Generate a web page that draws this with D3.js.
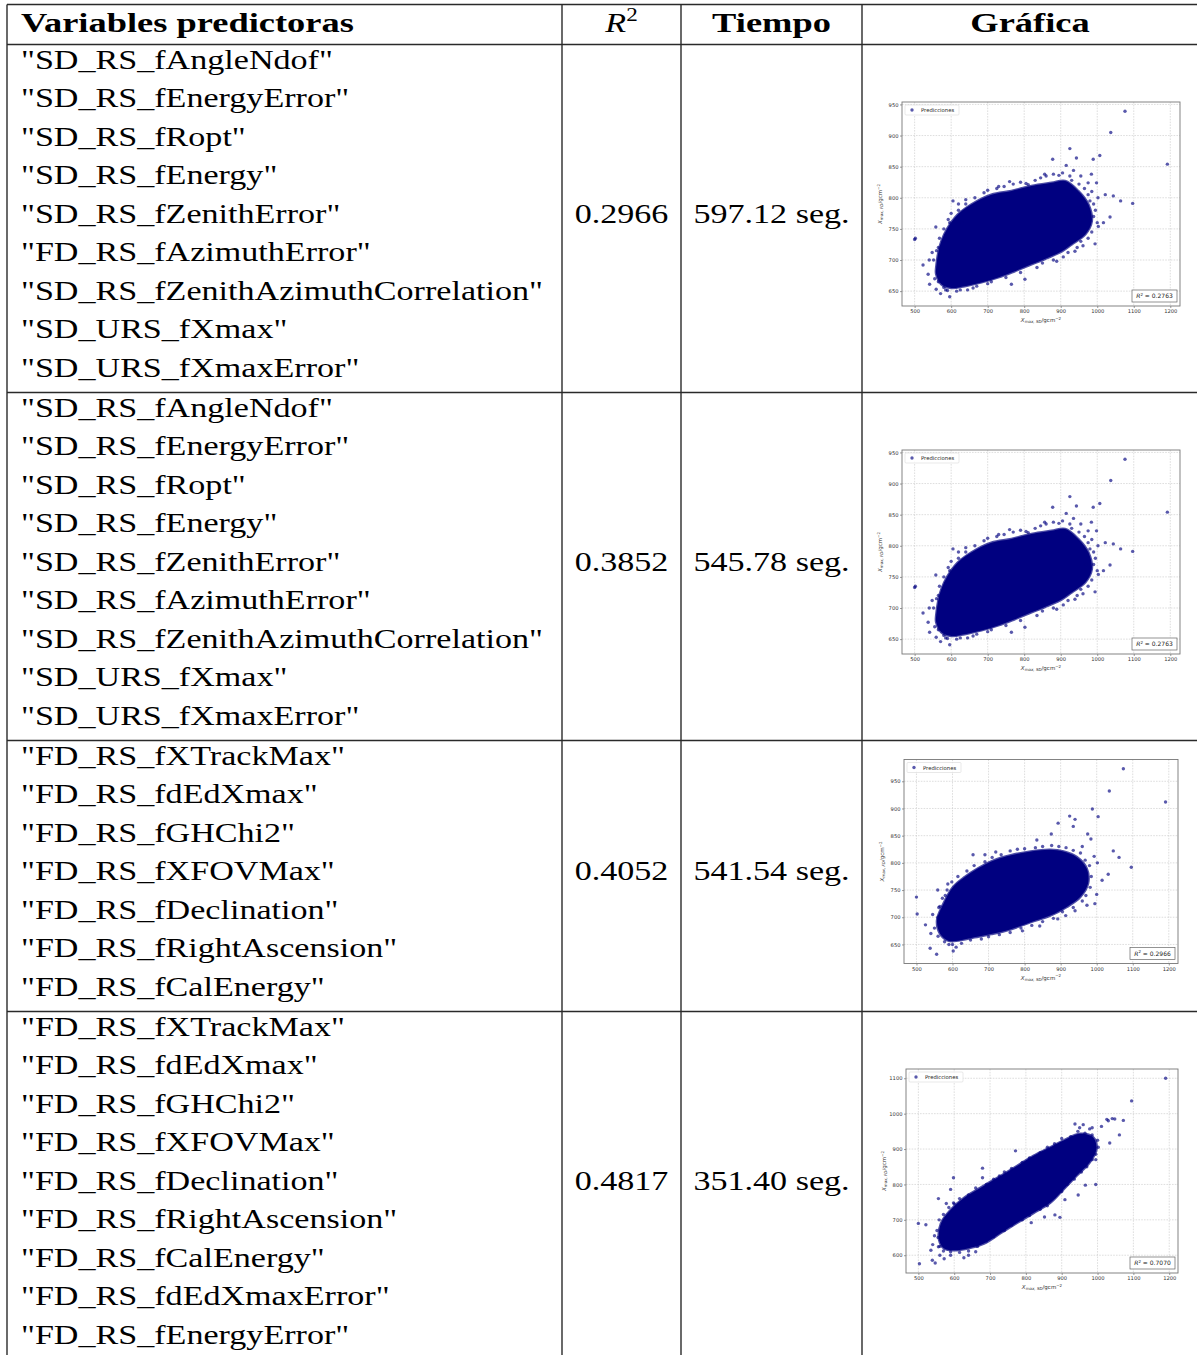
<!DOCTYPE html>
<html>
<head>
<meta charset="utf-8">
<script src="https://cdn.jsdelivr.net/npm/d3@7"></script>
<style>
  body { margin: 0; background: #fff; }
  svg { display: block; }
</style>
</head>
<body>
<svg id="chart" width="1197" height="1355"></svg>
<script>
// table content
const headers = ['Variables predictoras', 'R2', 'Tiempo', 'Gráfica'];
const varsRow1 = ['SD_RS_fAngleNdof', 'SD_RS_fEnergyError', 'SD_RS_fRopt', 'SD_RS_fEnergy', 'SD_RS_fZenithError',
  'FD_RS_fAzimuthError', 'SD_RS_fZenithAzimuthCorrelation', 'SD_URS_fXmax', 'SD_URS_fXmaxError'];
const varsRow2 = ['SD_RS_fAngleNdof', 'SD_RS_fEnergyError', 'SD_RS_fRopt', 'SD_RS_fEnergy', 'SD_RS_fZenithError',
  'SD_RS_fAzimuthError', 'SD_RS_fZenithAzimuthCorrelation', 'SD_URS_fXmax', 'SD_URS_fXmaxError'];
const varsRow3 = ['FD_RS_fXTrackMax', 'FD_RS_fdEdXmax', 'FD_RS_fGHChi2', 'FD_RS_fXFOVMax', 'FD_RS_fDeclination',
  'FD_RS_fRightAscension', 'FD_RS_fCalEnergy'];
const varsRow4 = ['FD_RS_fXTrackMax', 'FD_RS_fdEdXmax', 'FD_RS_fGHChi2', 'FD_RS_fXFOVMax', 'FD_RS_fDeclination',
  'FD_RS_fRightAscension', 'FD_RS_fCalEnergy', 'FD_RS_fdEdXmaxError', 'FD_RS_fEnergyError'];
const r2Values = ['0.2966', '0.3852', '0.4052', '0.4817'];
const timeValues = ['597.12 seg.', '545.78 seg.', '541.54 seg.', '351.40 seg.'];
const plotR2 = ['0.2763', '0.2763', '0.2966', '0.7070'];

// scatter thumbnails: x = Xmax SD, y = Xmax FD (g/cm2)
const xTicks = [500, 600, 700, 800, 900, 1000, 1100, 1200];
const yTicks50 = [650, 700, 750, 800, 850, 900, 950];
const yTicks100 = [600, 700, 800, 900, 1000, 1100];

// outline of the saturated core of the cloud
const coreA = [[559,688],[573,730],[610,768],[655,789],[710,805],[765,811],[820,819],[875,824],[912,827],[948,811],
  [976,789],[985,762],[967,741],[930,725],[903,714],[866,704],[820,693],[774,682],[729,672],[683,664],[637,658],
  [601,655],[573,661],[559,677]];
const pointsA = [[500,733],[502,735],[558,753],[523,692],[537,677],[541,661],[559,653],[571,646],[596,641],[580,656],
  [605,795],[596,760],[925,879],[943,864],[878,862],[989,862],[1007,868],[915,852],[1076,939],[1037,905],[1192,854],
  [1097,791],[1064,795],[1035,769],[1017,760],[1003,754],[994,726],[961,723],[939,714],[1044,803],[1022,805],[935,844],
  [984,838],[998,824],[975,824],[811,821],[856,838],[802,669],[765,661],[710,665],[907,705],[889,698],[990,790],
  [955,835],[925,835],[1002,800],[540,700],[548,712],[565,720],[585,740],[590,651],[625,652],[660,655],[760,826],
  [730,818],[640,790],[620,780]];
const edgeA = [[620,790],[640,797],[665,800],[690,808],[700,812],[725,815],[745,818],[770,822],[790,825],[805,823],
  [830,828],[845,832],[860,835],[880,838],[895,836],[905,840],[930,828],[950,822],[965,815],[975,805],[985,810],
  [980,795],[995,780],[990,770],[1000,760],[985,745],[975,735],[955,730],[945,720],[920,712],[880,700],[850,695],
  [835,688],[790,680],[750,672],[700,662],[670,658],[645,652],[615,650],[585,652],[565,665],[555,670],[552,700],
  [560,715],[568,735],[580,750],[592,765],[600,775],[630,760],[960,760],[970,770]];

const coreC = [[557,694],[575,725],[602,756],[634,774],[671,790],[716,805],[762,814],[817,821],[871,824],[908,821],
  [944,811],[972,790],[976,762],[954,737],[917,719],[871,703],[817,691],[762,678],[707,669],[661,663],[616,657],
  [588,657],[566,669]];
const pointsC = [[500,737],[502,706],[525,686],[538,643],[556,632],[579,675],[602,638],[587,761],[559,750],[657,815],
  [1074,973],[1035,932],[1191,912],[988,899],[1004,885],[925,886],[940,880],[893,873],[935,867],[975,853],[984,844],
  [874,853],[834,842],[1096,792],[1062,810],[1046,822],[1032,779],[1015,768],[1000,742],[995,725],[973,722],[940,712],
  [914,703],[892,697],[842,684],[794,675],[993,812],[1002,800],[960,830],[545,705],[562,718],[610,645],[590,650],
  [540,670],[690,815],[720,820],[580,740]];
const edgeC = [[560,700],[565,720],[572,735],[585,750],[598,765],[615,775],[640,785],[660,795],[690,802],[710,810],
  [735,815],[760,822],[780,825],[800,826],[830,828],[850,830],[875,832],[895,830],[915,828],[935,823],[955,818],
  [968,805],[980,795],[985,775],[982,755],[970,740],[960,730],[935,718],[905,710],[880,698],[850,692],[820,685],
  [790,680],[760,672],[730,668],[700,664],[680,660],[650,658],[625,652],[600,650],[578,655],[560,665],[550,680]];

const coreD = [[558,643],[563,690],[591,729],[627,762],[674,791],[729,824],[775,852],[821,881],[868,905],[905,924],
  [951,943],[988,933],[997,900],[978,862],[941,824],[905,786],[868,748],[821,719],[775,691],[729,662],[683,633],
  [637,619],[600,614],[572,619]];
const pointsD = [[500,690],[503,576],[521,686],[535,614],[539,586],[547,578],[556,624],[572,590],[598,819],[590,786],
  [556,760],[578,746],[627,593],[1190,1100],[1095,1036],[1072,981],[1041,986],[1026,984],[1011,964],[1034,917],
  [1061,940],[937,971],[960,969],[995,870],[995,800],[966,798],[946,770],[909,757],[881,714],[852,708],[815,692],
  [771,895],[726,824],[679,846],[679,819],[598,748],[895,707],[923,815],[978,957],[923,900],[1048,985],[1030,980],
  [985,960],[950,960],[540,630],[545,655],[560,600],[590,600],[640,600],[660,610]];
const edgeD = [[555,650],[552,670],[558,700],[570,715],[585,735],[600,745],[615,760],[640,770],[660,790],[690,800],
  [710,815],[740,835],[760,845],[790,862],[810,875],[840,890],[860,905],[880,915],[900,930],[925,935],[945,950],
  [965,945],[985,940],[1000,925],[1002,905],[995,885],[985,870],[970,850],[955,835],[935,815],[915,800],[900,780],
  [880,765],[860,740],[840,730],[810,712],[790,700],[760,685],[740,670],[710,652],[690,640],[665,625],[640,612],
  [615,608],[590,610],[570,612],[560,625]];

const rows = [
  { vars: varsRow1, r2: r2Values[0], time: timeValues[0], plot: { core: coreA, points: pointsA.concat(edgeA), yTicks: yTicks50, r2: plotR2[0] } },
  { vars: varsRow2, r2: r2Values[1], time: timeValues[1], plot: { core: coreA, points: pointsA.concat(edgeA), yTicks: yTicks50, r2: plotR2[1] } },
  { vars: varsRow3, r2: r2Values[2], time: timeValues[2], plot: { core: coreC, points: pointsC.concat(edgeC), yTicks: yTicks50, r2: plotR2[2] } },
  { vars: varsRow4, r2: r2Values[3], time: timeValues[3], plot: { core: coreD, points: pointsD.concat(edgeD), yTicks: yTicks100, r2: plotR2[3] } }
];

const svg = d3.select('#chart');
const colX = [7, 562, 681, 862, 1198];
const tableTop = 4.5;
const headBottom = 44.5;
const lineGap = 38.5;
const serif = "'Liberation Serif', 'Times New Roman', serif";
const navy = '#000080';

// horizontal stretch so the serif takes the width of the LaTeX font
function stretch(text, fontSize, weight, target) {
  const t = svg.append('text').style('font-family', serif).attr('font-size', fontSize)
    .attr('font-weight', weight).text(text);
  const w = t.node().getComputedTextLength();
  t.remove();
  return target / w;
}
const fs = 28;
const kBody = stretch('"SD_RS_fZenithAzimuthCorrelation"', fs, 'normal', 522);
const kBold = stretch('Variables predictoras', fs, 'bold', 333);

function cellText(x, y, str, opts = {}) {
  const k = opts.bold ? kBold : kBody;
  return svg.append('text')
    .attr('transform', `translate(${x},${y}) scale(${k},1)`)
    .style('font-family', serif)
    .attr('font-size', fs)
    .attr('font-weight', opts.bold ? 'bold' : 'normal')
    .attr('text-anchor', opts.anchor || 'start')
    .attr('fill', '#000')
    .text(str);
}

// header
cellText(21, 31.5, headers[0], { bold: true });
const rHead = svg.append('text')
  .attr('transform', `translate(${(colX[1] + colX[2]) / 2},31.5) scale(${kBody},1)`)
  .style('font-family', serif).attr('font-size', fs).attr('text-anchor', 'middle').attr('fill', '#000');
rHead.append('tspan').attr('font-style', 'italic').text('R');
rHead.append('tspan').attr('font-size', 19).attr('dy', -11).text('2');
cellText((colX[2] + colX[3]) / 2, 31.5, headers[2], { bold: true, anchor: 'middle' });
cellText((colX[3] + colX[4]) / 2, 31.5, headers[3], { bold: true, anchor: 'middle' });

// body rows
let rowTop = headBottom;
const rowLines = [];
rows.forEach(row => {
  const n = row.vars.length;
  const h = n * lineGap + 1.5;
  row.vars.forEach((v, i) => cellText(21, rowTop + 24 + i * lineGap, `"${v}"`));
  const mid = rowTop + 24 + Math.floor(n / 2) * lineGap;
  cellText((colX[1] + colX[2]) / 2, mid, row.r2, { anchor: 'middle' });
  cellText((colX[2] + colX[3]) / 2, mid, row.time, { anchor: 'middle' });
  row.top = rowTop;
  row.height = h;
  rowTop += h;
  rowLines.push(rowTop);
});

// grid of the table
const rule = { stroke: '#2a2a2a', width: 1.4 };
[tableTop, headBottom, ...rowLines.slice(0, -1)].forEach(y => {
  svg.append('line').attr('x1', colX[0]).attr('x2', colX[4]).attr('y1', y).attr('y2', y)
    .attr('stroke', rule.stroke).attr('stroke-width', rule.width);
});
colX.forEach(x => {
  svg.append('line').attr('x1', x).attr('x2', x).attr('y1', tableTop).attr('y2', 1360)
    .attr('stroke', rule.stroke).attr('stroke-width', rule.width);
});

// scatter thumbnails
const panelBoxes = [
  { left: 902, right: 1180 },
  { left: 902, right: 1180 },
  { left: 904, right: 1178 },
  { left: 906, right: 1178 }
];

function padded(values) {
  const [lo, hi] = d3.extent(values);
  const m = (hi - lo) * 0.05;
  return [lo - m, hi + m];
}

function xmaxLabel(sel, sub) {
  sel.append('tspan').attr('font-style', 'italic').text('X');
  sel.append('tspan').attr('font-style', 'italic').attr('font-size', 4).attr('dy', 1.3).text(`max, ${sub}`);
  sel.append('tspan').attr('dy', -1.3).text('/gcm');
  sel.append('tspan').attr('font-size', 4).attr('dy', -2.2).text('−2');
}

rows.forEach((row, i) => {
  const p = row.plot;
  const box = panelBoxes[i];
  const cy = row.top + row.height / 2 - 14.5;
  const top = cy - 102;
  const bottom = cy + 102;
  const allX = p.core.map(d => d[0]).concat(p.points.map(d => d[0]));
  const allY = p.core.map(d => d[1]).concat(p.points.map(d => d[1]));
  const x = d3.scaleLinear().domain(padded(allX)).range([box.left, box.right]);
  const y = d3.scaleLinear().domain(padded(allY)).range([bottom, top]);
  const g = svg.append('g').attr('font-family', 'DejaVu Sans, sans-serif');

  g.append('rect').attr('x', box.left).attr('y', top).attr('width', box.right - box.left)
    .attr('height', bottom - top).attr('fill', '#fff');

  const grid = g.append('g').attr('stroke', '#c8c8c8').attr('stroke-width', 0.6)
    .attr('stroke-dasharray', '1.6,1.2');
  xTicks.forEach(t => grid.append('line').attr('x1', x(t)).attr('x2', x(t)).attr('y1', top).attr('y2', bottom));
  p.yTicks.forEach(t => grid.append('line').attr('x1', box.left).attr('x2', box.right).attr('y1', y(t)).attr('y2', y(t)));

  g.append('path')
    .attr('d', d3.line().x(d => x(d[0])).y(d => y(d[1])).curve(d3.curveCatmullRomClosed)(p.core))
    .attr('fill', navy).attr('stroke', navy).attr('stroke-width', 2.5).attr('stroke-opacity', 0.7);

  g.append('g').selectAll('circle').data(p.points).join('circle')
    .attr('cx', d => x(d[0])).attr('cy', d => y(d[1])).attr('r', 1.7)
    .attr('fill', navy).attr('fill-opacity', 0.65);

  const ax = g.append('g').attr('transform', `translate(0,${bottom})`)
    .call(d3.axisBottom(x).tickValues(xTicks).tickFormat(d3.format('d')).tickSize(2).tickPadding(1.5));
  const ay = g.append('g').attr('transform', `translate(${box.left},0)`)
    .call(d3.axisLeft(y).tickValues(p.yTicks).tickFormat(d3.format('d')).tickSize(2).tickPadding(1.5));
  [ax, ay].forEach(a => {
    a.select('.domain').remove();
    a.selectAll('line').attr('stroke', '#555').attr('stroke-width', 0.6);
    a.selectAll('text').attr('font-size', 5.2).attr('fill', '#333').attr('font-family', 'DejaVu Sans, sans-serif');
  });

  g.append('rect').attr('x', box.left).attr('y', top).attr('width', box.right - box.left)
    .attr('height', bottom - top).attr('fill', 'none').attr('stroke', '#777').attr('stroke-width', 0.9);

  // legend
  g.append('rect').attr('x', box.left + 3).attr('y', top + 3).attr('width', 54).attr('height', 10)
    .attr('fill', '#fff').attr('fill-opacity', 0.85).attr('stroke', '#d0d0d0').attr('stroke-width', 0.5).attr('rx', 1);
  g.append('circle').attr('cx', box.left + 10).attr('cy', top + 8).attr('r', 1.7)
    .attr('fill', navy).attr('fill-opacity', 0.65);
  g.append('text').attr('x', box.left + 19).attr('y', top + 10).attr('font-size', 5.3).attr('fill', '#222')
    .text('Predicciones');

  // R2 box
  const bw = 45, bh = 12;
  g.append('rect').attr('x', box.right - 3 - bw).attr('y', bottom - 4 - bh).attr('width', bw).attr('height', bh)
    .attr('fill', '#fff').attr('stroke', '#666').attr('stroke-width', 0.7);
  const rt = g.append('text').attr('x', box.right - 3 - bw / 2).attr('y', bottom - 8)
    .attr('text-anchor', 'middle').attr('font-size', 6).attr('fill', '#222');
  rt.append('tspan').attr('font-style', 'italic').text('R');
  rt.append('tspan').attr('font-size', 4).attr('dy', -2.2).text('2');
  rt.append('tspan').attr('dy', 2.2).text(` = ${p.r2}`);

  // axis titles
  const xl = g.append('text').attr('x', (box.left + box.right) / 2).attr('y', bottom + 16)
    .attr('text-anchor', 'middle').attr('font-size', 5.5).attr('fill', '#333');
  xmaxLabel(xl, 'SD');
  const yl = g.append('text').attr('transform', `translate(${box.left - 20},${(top + bottom) / 2}) rotate(-90)`)
    .attr('text-anchor', 'middle').attr('font-size', 5.5).attr('fill', '#333');
  xmaxLabel(yl, 'FD');
});
</script>
</body>
</html>
